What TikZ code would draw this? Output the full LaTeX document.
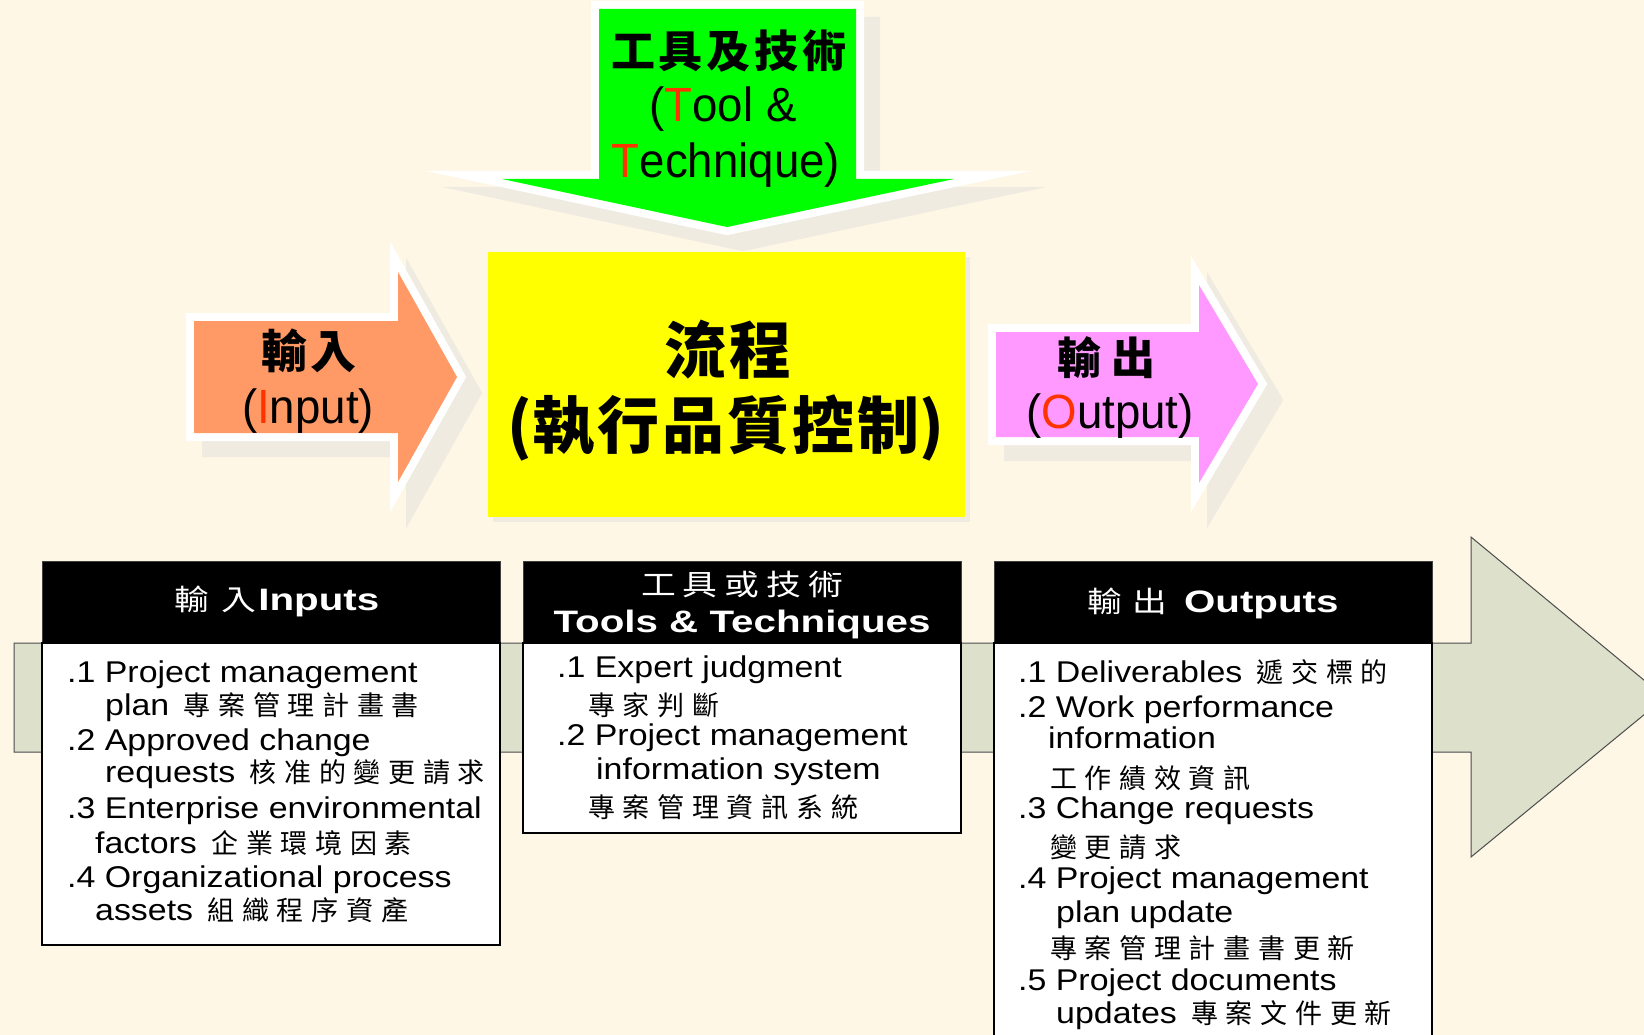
\documentclass[tikz,border=0pt]{standalone}
\usepackage{fontspec}
\setmainfont{Liberation Sans}
\newfontfamily\bodyf{Liberation Sans}[FakeStretch=1.13]
\newfontfamily\headf{Liberation Sans}[FakeStretch=1.3]
\newfontfamily\arrf{Liberation Sans}[FakeStretch=0.95]
\newfontfamily\cjk{Noto Sans CJK TC}
\newfontfamily\cjkh{Noto Sans CJK TC}[FakeStretch=1.2]
\newcommand\spchars[2]{\def\spgap{#1}\spcharsA#2\relax}
\def\spcharsA#1{\ifx#1\relax\else#1\expandafter\spcharsB\fi}
\def\spcharsB#1{\ifx#1\relax\else\hspace{\spgap}#1\expandafter\spcharsB\fi}
\newcommand\cb[1]{{\cjk\fontsize{27}{30}\selectfont\spchars{7.7pt}{#1}}}
\definecolor{bgc}{RGB}{255,247,230}
\definecolor{shad}{RGB}{239,235,225}
\definecolor{bigar}{RGB}{221,224,203}
\definecolor{tred}{RGB}{255,51,0}
\definecolor{inorange}{RGB}{255,153,102}
\definecolor{outpink}{RGB}{255,153,255}
\definecolor{tgreen}{RGB}{0,255,0}
\definecolor{pyellow}{RGB}{255,255,0}
\begin{document}
\begin{tikzpicture}[x=1pt,y=-1pt,
  body/.style={anchor=base west,inner sep=0pt,font=\bodyf\fontsize{30}{34}\selectfont},
  outl/.style={draw=white,line width=16pt,miter limit=12,line join=miter},
  shd/.style={fill=shad,draw=shad,line width=16pt,miter limit=12,line join=miter},
  hdr/.style={fill=black,draw=black!75,line width=1pt},
  bdy/.style={fill=white,draw=black,line width=1.8pt},
  atxt/.style={inner sep=0pt,font=\arrf\fontsize{48}{52}\selectfont},
  ctxt/.style={inner sep=0pt}]
\useasboundingbox (0,0) rectangle (1644,1035);
\clip (0,0) rectangle (1644,1035);
\fill[bgc] (0,0) rectangle (1644,1035);
% big background arrow
\filldraw[fill=bigar,draw=black!70,line width=1pt]
  (14,643) -- (1471,643) -- (1471,537) -- (1665,697.5) -- (1471,857) -- (1471,752) -- (14,752) -- cycle;
% shadows
\begin{scope}[shift={(16,16)}]
  \path[shd] (599,9) -- (856,9) -- (856,179) -- (954,179) -- (727,227) -- (502,179) -- (599,179) -- cycle;
  \path[shd] (194,321) -- (398,321) -- (398,272) -- (457,377) -- (398,482) -- (398,433) -- (194,433) -- cycle;
  \path[shd] (996,332) -- (1199,332) -- (1199,285) -- (1258,384) -- (1199,483) -- (1199,437) -- (996,437) -- cycle;
\end{scope}
\fill[shad] (493,257) rectangle (970,522);
% yellow process box
\fill[pyellow] (488,252) rectangle (965,517);
% green arrow
\path[outl] (599,9) -- (856,9) -- (856,179) -- (954,179) -- (727,227) -- (502,179) -- (599,179) -- cycle;
\fill[tgreen] (599,9) -- (856,9) -- (856,179) -- (954,179) -- (727,227) -- (502,179) -- (599,179) -- cycle;
% input arrow
\path[outl] (194,321) -- (398,321) -- (398,272) -- (457,377) -- (398,482) -- (398,433) -- (194,433) -- cycle;
\fill[inorange] (194,321) -- (398,321) -- (398,272) -- (457,377) -- (398,482) -- (398,433) -- (194,433) -- cycle;
% output arrow
\path[outl] (996,332) -- (1199,332) -- (1199,285) -- (1258,384) -- (1199,483) -- (1199,437) -- (996,437) -- cycle;
\fill[outpink] (996,332) -- (1199,332) -- (1199,285) -- (1258,384) -- (1199,483) -- (1199,437) -- (996,437) -- cycle;
% arrow texts
\node[ctxt] (tt1) at (729,51) {\cjk\bfseries\fontsize{44}{48}\selectfont\spchars{4pt}{工具及技術}};
\node[atxt,anchor=base] (tt2) at (723,122) {(\textcolor{tred}{T}ool \&};
\node[atxt,anchor=base] (tt3) at (726,178) {\textcolor{tred}{T}echnique)};
\node[ctxt] (in1) at (309,351) {\cjk\bfseries\fontsize{46}{50}\selectfont\spchars{4pt}{輸入}};
\node[atxt,anchor=base] (in2) at (308,423) {(\textcolor{tred}{I}nput)};
\node[ctxt] (out1) at (1106,358) {\cjk\bfseries\fontsize{44}{48}\selectfont\spchars{10pt}{輸出}};
\node[atxt,anchor=base] (out2) at (1110,428) {(\textcolor{tred}{O}utput)};
\node[ctxt] (pr1) at (728,350) {\cjk\bfseries\fontsize{62}{66}\selectfont\spchars{3pt}{流程}};
\node[ctxt] (pr2) at (726,428) {\cjk\bfseries\fontsize{62}{66}\selectfont(\spchars{3pt}{執行品質控制})};
% boxes
\path[hdr] (42,561) rectangle (500,643);
\path[bdy] (42,643) rectangle (500,945);
\path[hdr] (523,561) rectangle (961,643);
\path[bdy] (523,643) rectangle (961,833);
\path[hdr] (994,561) rectangle (1432,643);
\path[bdy] (994,643) rectangle (1432,1060);
% header texts
\node[ctxt,anchor=base,text=white] (hin) at (277,610)
  {{\cjkh\fontsize{29}{32}\selectfont\spchars{12pt}{輸入}}\hspace{2pt}{\headf\bfseries\fontsize{31}{34}\selectfont Inputs}};
\node[ctxt,text=white] (htt1) at (742,584) {\cjkh\fontsize{29}{32}\selectfont\spchars{7pt}{工具或技術}};
\node[ctxt,anchor=base,text=white] (htt2) at (742,632) {\headf\bfseries\fontsize{31}{34}\selectfont Tools \& Techniques};
\node[ctxt,anchor=base,text=white] (hout) at (1213,612)
  {{\cjkh\fontsize{29}{32}\selectfont\spchars{10pt}{輸出}}\hspace{17pt}{\headf\bfseries\fontsize{31}{34}\selectfont Outputs}};
% inputs list
\node[body] (i1) at (67,682) {.1 Project management};
\node[body] (i2) at (105,715) {plan\hspace{5pt} \cb{專案管理計畫書}};
\node[body] (i3) at (67,750) {.2 Approved change};
\node[body] (i4) at (105,782) {requests\hspace{5pt} \cb{核准的變更請求}};
\node[body] (i5) at (67,818) {.3 Enterprise environmental};
\node[body] (i6) at (95,853) {factors\hspace{5pt} \cb{企業環境因素}};
\node[body] (i7) at (67,887) {.4 Organizational process};
\node[body] (i8) at (95,920) {assets\hspace{5pt} \cb{組織程序資產}};
% tools list
\node[body] (t1) at (557,677) {.1 Expert judgment};
\node[body] (t2) at (588,715) {\cb{專家判斷}};
\node[body] (t3) at (557,745) {.2 Project management};
\node[body] (t4) at (596,779) {information system};
\node[body] (t5) at (588,817) {\cb{專案管理資訊系統}};
% outputs list
\node[body] (o1) at (1018,682) {.1 Deliverables\hspace{5pt} \cb{遞交標的}};
\node[body] (o2) at (1018,717) {.2 Work performance};
\node[body] (o3) at (1048,748) {information};
\node[body] (o4) at (1050,788) {\cb{工作績效資訊}};
\node[body] (o5) at (1018,818) {.3 Change requests};
\node[body] (o6) at (1050,857) {\cb{變更請求}};
\node[body] (o7) at (1018,888) {.4 Project management};
\node[body] (o8) at (1056,922) {plan update};
\node[body] (o9) at (1050,958) {\cb{專案管理計畫書更新}};
\node[body] (o10) at (1018,990) {.5 Project documents};
\node[body] (o11) at (1056,1023) {updates\hspace{5pt} \cb{專案文件更新}};
\end{tikzpicture}
\end{document}
